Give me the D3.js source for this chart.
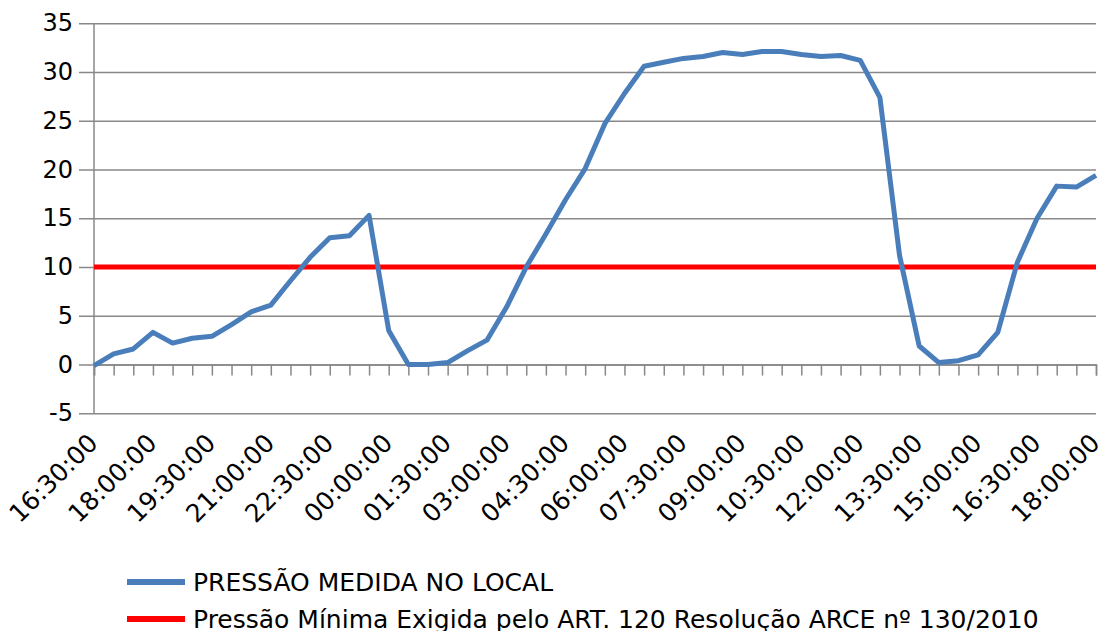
<!DOCTYPE html>
<html>
<head>
<meta charset="utf-8">
<script src="https://cdn.jsdelivr.net/npm/d3@7/dist/d3.min.js"></script>
<style>
  body { margin: 0; background: #fff; }
  text { font-family: "DejaVu Sans", sans-serif; fill: #000; }
</style>
</head>
<body>
<div id="elements"></div>
<script>
// categories: half-hour readings from 16:30 to 18:00 the next day
var categories = ["16:30:00","17:00:00","17:30:00","18:00:00","18:30:00","19:00:00","19:30:00","20:00:00","20:30:00",
    "21:00:00","21:30:00","22:00:00","22:30:00","23:00:00","23:30:00","00:00:00","00:30:00","01:00:00","01:30:00",
    "02:00:00","02:30:00","03:00:00","03:30:00","04:00:00","04:30:00","05:00:00","05:30:00","06:00:00","06:30:00",
    "07:00:00","07:30:00","08:00:00","08:30:00","09:00:00","09:30:00","10:00:00","10:30:00","11:00:00","11:30:00",
    "12:00:00","12:30:00","13:00:00","13:30:00","14:00:00","14:30:00","15:00:00","15:30:00","16:00:00","16:30:00",
    "17:00:00","17:30:00","18:00:00"];

var pressaoMedida = [-0.1, 1.1, 1.6, 3.3, 2.2, 2.7, 2.9, 4.1, 5.4, 6.1, 8.6, 11.0, 13.0, 13.2, 15.3, 3.5, 0.0, 0.0,
    0.2, 1.4, 2.5, 5.9, 10.0, 13.4, 16.9, 20.1, 24.7, 27.8, 30.6, 31.0, 31.4, 31.6, 32.0, 31.8, 32.1, 32.1, 31.8,
    31.6, 31.7, 31.2, 27.4, 11.2, 1.9, 0.2, 0.4, 1.0, 3.3, 10.5, 15.0, 18.3, 18.2, 19.4];

var pressaoMinima = categories.map(function() { return 10; });

var yTicks = [-5, 0, 5, 10, 15, 20, 25, 30, 35];

var seriesNames = ["PRESSÃO MEDIDA NO LOCAL", "Pressão Mínima Exigida pelo ART. 120 Resolução ARCE nº 130/2010"];
var seriesColors = ["#4a7ebb", "#ff0000"];

var svgWidth = 1103, svgHeight = 631;
var plotLeft = 94, plotRight = 1096, plotTop = 23.3, plotBottom = 413.3;

var svg = d3.select("#elements").append("svg")
    .attr("width", svgWidth)
    .attr("height", svgHeight);

var x = d3.scalePoint()
    .domain(d3.range(categories.length))
    .range([plotLeft, plotRight]);

var y = d3.scaleLinear()
    .domain([-5, 35])
    .range([plotBottom, plotTop]);

// horizontal gridlines + y labels
var yAxis = svg.append("g")
    .attr("transform", "translate(" + plotLeft + ",0)")
    .call(d3.axisLeft(y)
        .tickValues(yTicks)
        .tickFormat(function(d) { return String(d); })   // plain hyphen for -5
        .tickSize(-(plotRight - plotLeft))
        .tickPadding(21));
yAxis.select(".domain").remove();
yAxis.selectAll("line")
    .attr("x1", -15)
    .attr("stroke", "#888")
    .attr("stroke-width", 1.5);
yAxis.selectAll("text")
    .attr("fill", "#000")
    .style("font-size", "24px")
    .style("font-family", "DejaVu Sans");

// vertical axis line
svg.append("line")
    .attr("x1", plotLeft).attr("x2", plotLeft)
    .attr("y1", plotTop).attr("y2", plotBottom)
    .attr("stroke", "#888")
    .attr("stroke-width", 1.5);

// category axis sits on the zero line
var xAxis = svg.append("g")
    .attr("transform", "translate(0," + y(0) + ")")
    .call(d3.axisBottom(x).tickSize(11).tickFormat(""));
xAxis.select(".domain")
    .attr("stroke", "#888")
    .attr("stroke-width", 1.5);
xAxis.selectAll("line")
    .attr("stroke", "#888")
    .attr("stroke-width", 1.5);

// rotated category labels, every third category, below the plot
svg.append("g")
    .selectAll("text")
    .data(d3.range(0, categories.length, 3))
    .enter()
    .append("text")
    .attr("transform", function(i) { return "translate(" + (x(i) - 1) + "," + (plotBottom + 25) + ") rotate(-45)"; })
    .attr("text-anchor", "end")
    .attr("dy", "0.35em")
    .style("font-size", "25px")
    .text(function(i) { return categories[i]; });

var line = d3.line()
    .x(function(d, i) { return x(i); })
    .y(function(d) { return y(d); });

svg.append("path")
    .datum(pressaoMinima)
    .attr("fill", "none")
    .attr("stroke", seriesColors[1])
    .attr("stroke-width", 5)
    .attr("d", line);

svg.append("path")
    .datum(pressaoMedida)
    .attr("fill", "none")
    .attr("stroke", seriesColors[0])
    .attr("stroke-width", 5)
    .attr("stroke-linejoin", "round")
    .attr("d", line);

// legend
var legend = svg.append("g")
    .selectAll("g")
    .data(seriesNames)
    .enter()
    .append("g")
    .attr("transform", function(d, i) { return "translate(127," + (582 + i * 37) + ")"; });

legend.append("line")
    .attr("x1", 0).attr("x2", 58)
    .attr("stroke", function(d, i) { return seriesColors[i]; })
    .attr("stroke-width", 6);

legend.append("text")
    .attr("x", 66)
    .attr("dy", "0.35em")
    .style("font-size", "25px")
    .text(function(d) { return d; });
</script>
</body>
</html>
